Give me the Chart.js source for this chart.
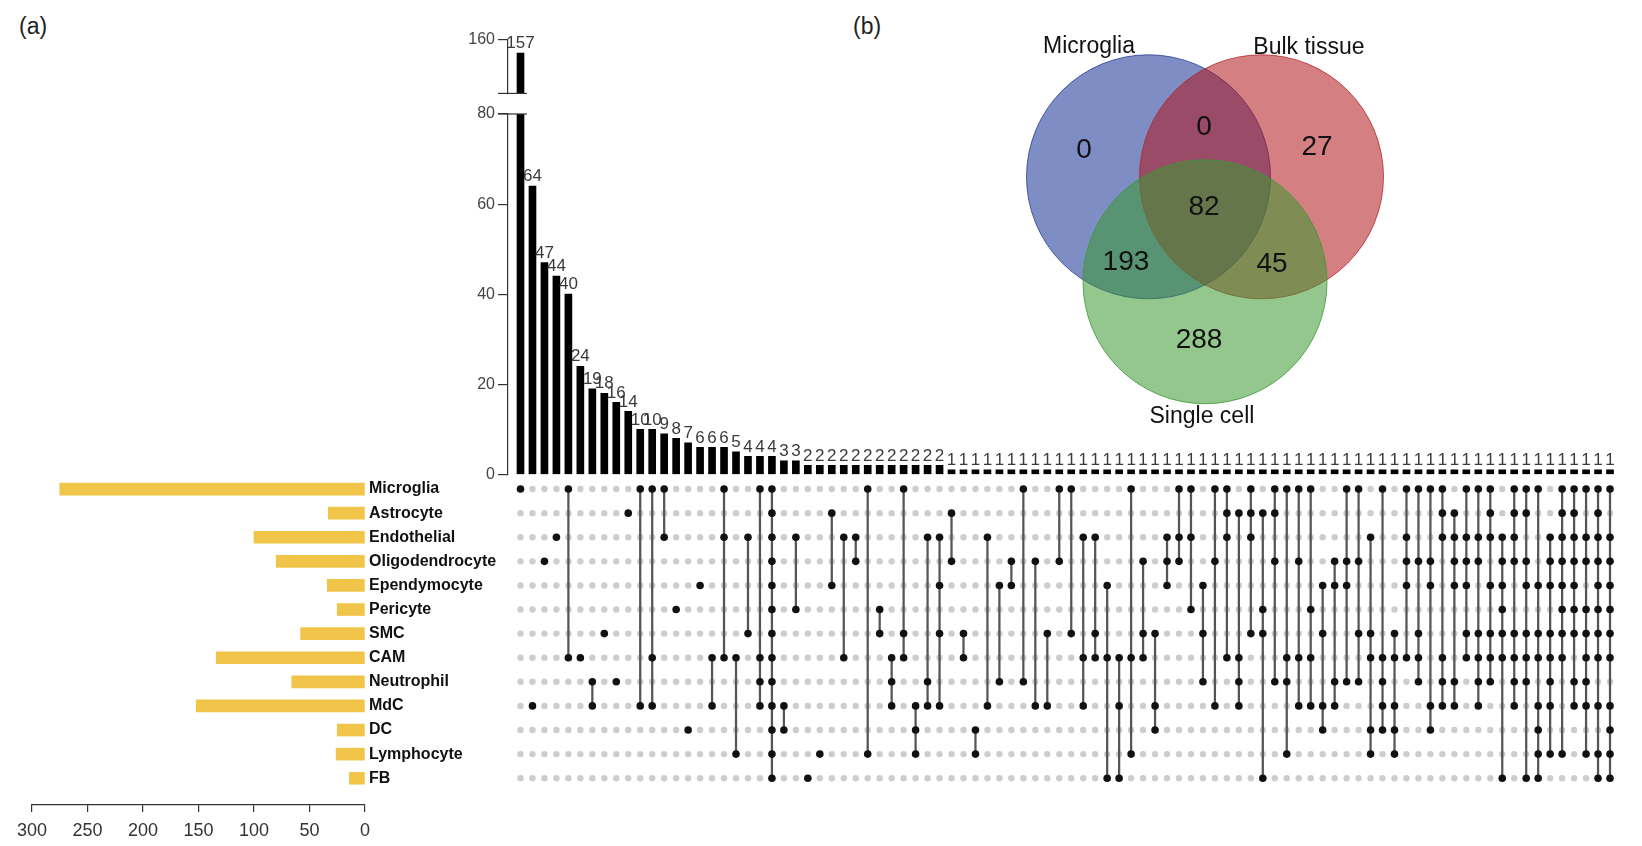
<!DOCTYPE html>
<html>
<head>
<meta charset="utf-8">
<script src="https://cdn.jsdelivr.net/npm/chart.js@4.4.1/dist/chart.umd.min.js"></script>
<style>
  body { margin: 0; background: #fff; }
  #page { position: relative; width: 1642px; height: 846px; overflow: hidden; font-family: "Liberation Sans", Arial, Helvetica, sans-serif; }
  canvas { position: absolute; }
  .panel { position: absolute; font-size: 23px; line-height: 1; color: #222; }
</style>
</head>
<body>
<div id="page">
  <div class="panel" style="left:19px;top:15px">(a)</div>
  <div class="panel" style="left:853px;top:15px">(b)</div>
  <canvas id="setSizes" width="520" height="382" style="left:0;top:459px"></canvas>
  <canvas id="barsLow" width="1158" height="387" style="left:458px;top:100px"></canvas>
  <canvas id="barsHigh" width="1158" height="80" style="left:458px;top:26px"></canvas>
  <canvas id="matrix" width="1108" height="313" style="left:508px;top:477px"></canvas>
  <canvas id="venn" width="488" height="427" style="left:961px;top:6px"></canvas>
</div>
<script>
// ---- data (a): UpSet plot of cell types ----
const setNames = ["Microglia", "Astrocyte", "Endothelial", "Oligodendrocyte", "Ependymocyte", "Pericyte",
                  "SMC", "CAM", "Neutrophil", "MdC", "DC", "Lymphocyte", "FB"];
const setSizes = [275, 33, 100, 80, 34, 25, 58, 134, 66, 152, 25, 26, 14];
const setSizeTicks = [0, 50, 100, 150, 200, 250, 300];

const intersectionSizes = [157, 64, 47, 44, 40, 24, 19, 18, 16, 14, 10, 10, 9, 8, 7, 6, 6, 6, 5, 4, 4, 4, 3, 3,
  2, 2, 2, 2, 2, 2, 2, 2, 2, 2, 2, 2,
  1, 1, 1, 1, 1, 1, 1, 1, 1, 1, 1, 1, 1, 1,
  1, 1, 1, 1, 1, 1, 1, 1, 1, 1, 1, 1, 1, 1,
  1, 1, 1, 1, 1, 1, 1, 1, 1, 1, 1, 1, 1, 1,
  1, 1, 1, 1, 1, 1, 1, 1, 1, 1, 1, 1, 1, 1];

// members of each intersection (index into setNames)
const intersectionSets = [
  [0], [9], [3], [2], [0, 7], [7], [8, 9], [6], [8], [1],
  [0, 9], [0, 7, 9], [0, 2], [5], [10], [4], [7, 9], [0, 2, 7], [7, 11], [2, 6],
  [0, 7, 8, 9], [0, 1, 2, 3, 4, 5, 6, 7, 8, 9, 10, 11, 12], [9, 10], [2, 5], [12], [11], [1, 4], [2, 7], [2, 3], [0, 11],
  [5, 6], [7, 8, 9], [0, 6, 7], [9, 10, 11], [2, 8, 9], [2, 4, 6, 9], [1, 3], [6, 7], [10, 11], [2, 9],
  [4, 8], [3, 4], [0, 8], [3, 9], [6, 9], [0, 3], [0, 6], [2, 7, 9], [2, 6, 7], [4, 7, 12],
  [7, 9, 12], [0, 7, 11], [3, 6, 7], [6, 9, 10], [2, 3, 4], [0, 2, 3], [0, 2, 5], [4, 6, 8], [0, 3, 9], [0, 1, 2, 7],
  [1, 7, 8, 9], [0, 1, 2, 6], [1, 5, 6, 12], [0, 1, 3, 8], [0, 7, 8, 11], [0, 3, 7, 9], [0, 5, 7, 9], [4, 6, 9, 10], [3, 4, 8, 9], [0, 3, 4, 8],
  [0, 3, 6, 8], [2, 6, 7, 10, 11], [0, 7, 8, 9, 10], [6, 7, 9, 10, 11], [0, 2, 3, 4, 7], [0, 3, 6, 7, 8], [0, 3, 4, 9, 10], [0, 1, 2, 7, 8, 9], [1, 2, 3, 4, 8, 9], [0, 2, 3, 4, 6, 7],
  [0, 2, 3, 6, 7, 8, 9], [0, 1, 2, 4, 6, 7, 8], [2, 3, 4, 5, 6, 7, 12], [0, 1, 2, 3, 6, 7, 8, 9], [0, 1, 3, 4, 6, 7, 8, 12],
  [0, 4, 6, 7, 9, 10, 11, 12], [2, 3, 4, 6, 7, 8, 9, 11], [0, 1, 2, 3, 4, 5, 6, 7, 11], [0, 1, 2, 3, 4, 5, 6, 8, 9],
  [0, 2, 3, 5, 6, 7, 8, 9, 11], [0, 1, 2, 3, 4, 5, 6, 7, 9, 11, 12], [0, 2, 3, 4, 5, 6, 7, 9, 10, 11, 12]
];
const yTicksLow = [0, 20, 40, 60, 80];
const yTicksHigh = [160];

// ---- data (b): Venn diagram ----
const vennSets = ["Microglia", "Bulk tissue", "Single cell"];
const vennRegions = ["Microglia", "Microglia+Bulk", "Bulk", "All", "Microglia+Single", "Bulk+Single", "Single"];
const vennCounts = [0, 0, 27, 82, 193, 45, 288];

// ---- layout / style ----
const FONT = '"Liberation Sans", Arial, Helvetica, sans-serif';
const colX = { min: -1.044, max: 91.5 };
const VENN_R = 122;   // circle radius in px (= one unit on the venn scales)
const vennCenters = [[-0.463, 0], [0.463, 0], [0, -0.86]];
const vennSetLabelPos = [[-0.951, 1.066], [0.852, 1.057], [-0.025, -1.967]];
const vennCountPos = [[-0.992, 0.221], [-0.008, 0.402], [0.918, 0.238], [-0.008, -0.246], [-0.648, -0.697], [0.549, -0.713], [-0.049, -1.336]];
const vennFill = ["rgba(20,48,148,0.55)", "rgba(177,22,28,0.55)", "rgba(58,153,50,0.55)"];
const vennEdge = ["rgba(40,60,150,0.8)", "rgba(180,40,45,0.8)", "rgba(60,150,55,0.8)"];

Chart.defaults.font.family = FONT;
Chart.defaults.animation = false;
Chart.defaults.plugins.legend.display = false;
Chart.defaults.plugins.tooltip.enabled = false;

const valueLabels = {
  id: 'valueLabels',
  afterDatasetsDraw(chart) {
    const meta = chart.getDatasetMeta(0);
    const ys = chart.scales.y;
    const ctx = chart.ctx;
    ctx.save();
    ctx.font = '17px ' + FONT;
    ctx.fillStyle = '#3a3a3a';
    ctx.textAlign = 'center';
    ctx.textBaseline = 'bottom';
    meta.data.forEach((bar, i) => {
      const v = intersectionSizes[i];
      if (v > ys.max || v < ys.min) return;
      ctx.fillText(String(v), bar.x, bar.y - 1);
    });
    ctx.restore();
  }
};

const axisBreak = {
  id: 'axisBreak',
  afterDraw(chart, args, opts) {
    const { ctx, chartArea } = chart;
    const bar = chart.getDatasetMeta(0).data[0];
    const y = opts.edge === 'top' ? chartArea.top : chartArea.bottom;
    ctx.save();
    ctx.strokeStyle = '#333';
    ctx.lineWidth = 1.2;
    ctx.beginPath();
    ctx.moveTo(chartArea.left - 10, y);
    ctx.lineTo(bar.x + bar.width / 2 + 3, y);
    ctx.stroke();
    ctx.restore();
  }
};

function topBarChart(id, yMin, yMax, ticks, edge) {
  return new Chart(document.getElementById(id), {
    type: 'bar',
    data: {
      datasets: [{
        data: intersectionSizes.map((v, i) => ({ x: i, y: v })),
        backgroundColor: '#000',
        barThickness: 7,
        clip: 0
      }]
    },
    options: {
      responsive: false,
      layout: { autoPadding: false, padding: { top: 14, bottom: 10, left: 0, right: 0 } },
      plugins: { axisBreak: { edge: edge } },
      scales: {
        x: { type: 'linear', min: colX.min, max: colX.max, offset: false, display: false },
        y: {
          min: yMin, max: yMax,
          afterFit(s) { s.width = 50; },
          afterBuildTicks(s) { s.ticks = ticks.map(v => ({ value: v })); },
          ticks: { font: { size: 16 }, color: '#444', padding: 3 },
          grid: { display: true, drawOnChartArea: false, drawTicks: true, tickLength: 10, color: '#333', lineWidth: 1.2 },
          border: { display: true, color: '#333', width: 1.2 }
        }
      }
    },
    plugins: [valueLabels, axisBreak]
  });
}

topBarChart('barsLow', 0, 80, yTicksLow, 'top');
topBarChart('barsHigh', 147.66, 160, yTicksHigh, 'bottom');

// matrix of dots
const memberPts = [], emptyPts = [], links = [];
intersectionSets.forEach((rows, c) => {
  setNames.forEach((n, r) => {
    if (rows.includes(r)) memberPts.push({ x: c, y: r });
    else emptyPts.push({ x: c, y: r });
  });
  if (rows.length > 1) links.push({ x: c, y: [Math.min(...rows), Math.max(...rows)] });
});

new Chart(document.getElementById('matrix'), {
  type: 'scatter',
  data: {
    datasets: [
      { data: memberPts, pointRadius: 3.8, pointBackgroundColor: '#111', pointBorderWidth: 0 },
      { type: 'bar', data: links, backgroundColor: '#555', barThickness: 1.6 },
      { data: emptyPts, pointRadius: 3.2, pointBackgroundColor: '#cdcdcd', pointBorderWidth: 0 }
    ]
  },
  options: {
    responsive: false,
    layout: { autoPadding: false, padding: 0 },
    scales: {
      x: { type: 'linear', min: colX.min, max: colX.max, offset: false, display: false },
      y: { type: 'linear', min: -0.5, max: 12.49, reverse: true, offset: false, display: false }
    }
  }
});

// set size bars (left)
new Chart(document.getElementById('setSizes'), {
  type: 'bar',
  data: {
    datasets: [{
      data: setSizes.map((v, r) => ({ x: v, y: r })),
      backgroundColor: '#F0C54A',
      barThickness: 12
    }]
  },
  options: {
    indexAxis: 'y',
    responsive: false,
    layout: { padding: { left: 32, top: 16, right: 0, bottom: 0 } },
    scales: {
      x: {
        type: 'linear', min: 0, max: 300, reverse: true, offset: false,
        afterFit(s) { s.height = 36; },
        afterBuildTicks(s) { s.ticks = setSizeTicks.map(v => ({ value: v })); },
        ticks: { font: { size: 18 }, color: '#333', padding: 8, maxRotation: 0 },
        grid: { display: true, drawOnChartArea: false, tickLength: 7, color: '#333', lineWidth: 1.2 },
        border: { display: true, color: '#333', width: 1.2 }
      },
      y: {
        type: 'linear', position: 'right', min: -0.583, max: 13.11, reverse: true, offset: false,
        afterFit(s) { s.width = 155; },
        afterBuildTicks(s) { s.ticks = setNames.map((n, r) => ({ value: r })); },
        ticks: { callback: v => setNames[v], font: { size: 16, weight: 'bold' }, color: '#111', padding: 4, autoSkip: false },
        grid: { display: false, drawTicks: false },
        border: { display: false }
      }
    }
  }
});

// Venn diagram
const vennText = {
  id: 'vennText',
  afterDatasetsDraw(chart) {
    const { ctx, scales: { x, y } } = chart;
    ctx.save();
    ctx.textAlign = 'center';
    ctx.textBaseline = 'middle';
    ctx.fillStyle = '#111';
    ctx.font = '23px ' + FONT;
    vennSets.forEach((name, i) => {
      ctx.fillText(name, x.getPixelForValue(vennSetLabelPos[i][0]), y.getPixelForValue(vennSetLabelPos[i][1]));
    });
    ctx.font = '28px ' + FONT;
    vennCounts.forEach((v, i) => {
      ctx.fillText(String(v), x.getPixelForValue(vennCountPos[i][0]), y.getPixelForValue(vennCountPos[i][1]));
    });
    ctx.restore();
  }
};

new Chart(document.getElementById('venn'), {
  type: 'bubble',
  data: {
    labels: vennSets,
    datasets: [{
      data: vennCenters.map(c => ({ x: c[0], y: c[1], r: VENN_R })),
      backgroundColor: vennFill,
      borderColor: vennEdge,
      borderWidth: 1,
      clip: false
    }]
  },
  options: {
    responsive: false,
    layout: { autoPadding: false, padding: 0 },
    scales: {
      x: { type: 'linear', min: -2, max: 2, display: false },
      y: { type: 'linear', min: -2.1, max: 1.4, display: false }
    }
  },
  plugins: [vennText]
});
</script>
</body>
</html>
